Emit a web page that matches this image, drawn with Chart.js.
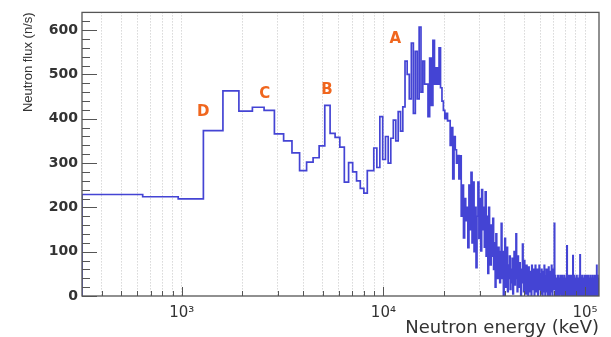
<!DOCTYPE html>
<html>
<head>
<meta charset="utf-8">
<script src="https://cdn.jsdelivr.net/npm/chart.js@4.4.1/dist/chart.umd.min.js"></script>
<style>
html, body { margin: 0; padding: 0; background: #fff; }
canvas { display: block; }
</style>
</head>
<body>
<canvas id="myChart" width="611" height="337"></canvas>
<script>
// histogram: constant 320 keV bins, first visible bin starts at 320 keV
const binWidth = 320;
const firstBin = 1;
const flux = [
    229, 224, 219, 373, 463, 417, 426, 419, 366, 350,
    323, 283, 302, 312, 339, 430, 367, 358, 336, 257,
    301, 280, 260, 243, 232, 283, 283, 334, 290, 405,
    308, 360, 300, 356, 397, 350, 416, 372, 427, 530,
    500, 445, 571, 412, 552, 445, 607, 460, 530, 478,
    478, 405, 537, 430, 577, 478, 515, 478, 560, 470,
    440, 419, 400, 412, 395, 396, 340, 380, 264, 360,
    330, 300, 317, 264, 316, 180, 250, 131, 220, 170,
    200, 109, 250, 150, 279, 120, 257, 100, 200, 64,
    180, 257, 130, 220, 102, 240, 150, 200, 110, 235,
    90, 180, 51, 200, 120, 70, 160, 90, 175, 60,
    120, 20, 140, 90, 40, 110, 60, 30, 100, 164,
    40, 100, 0, 80, 130, 20, 60, 110, 10, 70,
    40, 90, 15, 60, 30, 85, 5, 50, 100, 25,
    70, 140, 40, 10, 90, 55, 20, 75, 35, 0,
    60, 30, 117, 45, 10, 80, 25, 55, 5, 69,
    20, 50, 0, 65, 30, 10, 55, 40, 0, 69,
    35, 15, 60, 25, 0, 50, 69, 10, 40, 20,
    60, 0, 45, 30, 69, 15, 50, 5, 35, 60,
    20, 0, 55, 40, 10, 69, 30, 0, 45, 25,
    60, 10, 50, 0, 35, 65, 20, 40, 0, 55,
    30, 10, 69, 45, 0, 25, 60, 15, 40, 164,
    20, 46, 0, 35, 10, 40, 25, 0, 46, 15,
    30, 0, 40, 20, 46, 5, 35, 0, 25, 46,
    10, 30, 0, 40, 20, 46, 0, 35, 15, 40,
    0, 25, 46, 113, 10, 35, 0, 40, 20, 46,
    5, 30, 0, 40, 25, 46, 10, 35, 0, 30,
    20, 91, 0, 40, 15, 46, 25, 0, 35, 10,
    40, 0, 30, 46, 15, 0, 35, 20, 40, 5,
    30, 0, 46, 20, 93, 10, 35, 0, 40, 25,
    0, 46, 15, 30, 0, 40, 20, 35, 5, 46,
    0, 25, 40, 10, 35, 0, 46, 20, 30, 0,
    40, 15, 46, 0, 25, 35, 10, 40, 0, 30,
    46, 5, 35, 0, 20, 40, 0, 30, 46, 10,
    25, 0, 40, 15, 35, 0, 46, 20, 30, 0,
    35, 46, 10, 25, 0, 40, 69, 15, 30, 0,
    46, 20, 35, 0, 40, 10, 30, 25
];
const yTickValues = [0, 100, 200, 300, 400, 500, 600];
const xLabelValues = [1000, 10000, 100000];
const xLabelText = ['10\u00B3', '10\u2074', '10\u2075'];
const peakNames = ['A', 'B', 'C', 'D'];
const peakEnergy = [11445, 5243, 2582, 1276];
const peakFlux = [580, 465, 456, 414];

const xMin = 320, xMax = 117300, yMax = 640;

// step points at bin left edges, starting from the baseline
let points = [{x: firstBin * binWidth, y: 0}];
flux.forEach(function(v, i) {
    points.push({x: (firstBin + i) * binWidth, y: v});
});
points.push({x: (firstBin + flux.length) * binWidth, y: flux[flux.length - 1]});

// grid positions 1..9 x 10^n inside the range
let gridValues = [];
[100, 1000, 10000, 100000].forEach(function(d) {
    for (let m = 1; m <= 9; m++) {
        if (d * m >= xMin && d * m <= xMax) gridValues.push(d * m);
    }
});

const frameTicks = {
    id: 'frameTicks',
    afterDatasetsDraw(chart) {
        const ctx = chart.ctx;
        const x = chart.scales.x, y = chart.scales.y;
        ctx.save();
        ctx.font = 'bold 15px "DejaVu Sans"';
        ctx.fillStyle = '#f0661e';
        ctx.textAlign = 'center';
        ctx.textBaseline = 'middle';
        peakNames.forEach(function(n, i) {
            ctx.fillText(n, x.getPixelForValue(peakEnergy[i]), y.getPixelForValue(peakFlux[i]));
        });
        ctx.restore();
    },
    afterDraw(chart) {
        const ctx = chart.ctx, a = chart.chartArea;
        const x = chart.scales.x, y = chart.scales.y;
        ctx.save();
        ctx.strokeStyle = '#555';
        ctx.lineWidth = 1;
        ctx.beginPath();
        for (let v = 0; v <= yMax; v += 20) {
            const py = Math.round(y.getPixelForValue(v)) + 0.5;
            const len = v % 100 === 0 ? 15 : 8;
            ctx.moveTo(a.left, py);
            ctx.lineTo(a.left + len, py);
        }
        gridValues.forEach(function(v) {
            const px = Math.round(x.getPixelForValue(v)) + 0.5;
            const len = xLabelValues.indexOf(v) >= 0 ? 9 : 5;
            ctx.moveTo(px, a.bottom);
            ctx.lineTo(px, a.bottom - len);
        });
        ctx.stroke();
        ctx.lineWidth = 1.3;
        ctx.strokeRect(a.left, a.top, a.right - a.left, a.bottom - a.top);
        ctx.restore();
    }
};

const ctx = document.getElementById('myChart').getContext('2d');
const myChart = new Chart(ctx, {
    type: 'line',
    data: {
        datasets: [{
            data: points,
            stepped: true,
            borderColor: 'rgb(68, 68, 212)',
            borderWidth: 1.7,
            pointRadius: 0,
            fill: false
        }]
    },
    options: {
        responsive: false,
        animation: false,
        devicePixelRatio: 1,
        layout: { padding: { top: 7, right: 12, left: 0, bottom: 0 } },
        plugins: { legend: { display: false }, tooltip: { enabled: false } },
        scales: {
            x: {
                type: 'logarithmic',
                min: xMin,
                max: xMax,
                afterBuildTicks: function(axis) {
                    axis.ticks = gridValues.map(v => ({value: v}));
                },
                afterFit: function(scale) { scale.height = 41; },
                ticks: {
                    autoSkip: false,
                    maxRotation: 0,
                    padding: 8,
                    color: '#333',
                    font: { family: 'DejaVu Sans', size: 15 },
                    callback: function(v) {
                        const i = xLabelValues.indexOf(v);
                        return i >= 0 ? xLabelText[i] : '';
                    }
                },
                grid: { color: '#c4c4c4', lineWidth: 1, drawTicks: false },
                border: { display: false, dash: [1, 2] },
                title: {
                    display: true,
                    text: 'Neutron energy (keV)',
                    align: 'end',
                    color: '#333',
                    font: { family: 'DejaVu Sans', size: 18, lineHeight: 1 },
                    padding: { top: 0, bottom: 0 }
                }
            },
            y: {
                min: 0,
                max: yMax,
                afterBuildTicks: function(axis) {
                    axis.ticks = yTickValues.map(v => ({value: v}));
                },
                afterFit: function(scale) { scale.width = 82; },
                ticks: {
                    padding: 4,
                    color: '#333',
                    font: { family: 'DejaVu Sans', size: 14, weight: 'bold' }
                },
                grid: { display: false, drawTicks: false },
                border: { display: false },
                title: {
                    display: true,
                    text: 'Neutron flux (n/s)',
                    align: 'end',
                    color: '#333',
                    font: { family: 'Liberation Sans', size: 13 },
                    padding: { top: 21, bottom: 0 }
                }
            }
        }
    },
    plugins: [frameTicks]
});
</script>
</body>
</html>
